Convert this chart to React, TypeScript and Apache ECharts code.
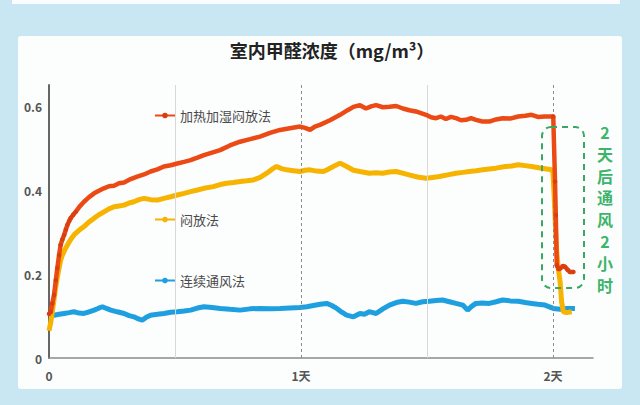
import React, { useEffect, useRef } from "react";
import * as echarts from "echarts";

const titleText = "室内甲醛浓度（mg/m³）";
const seriesNames = ["加热加湿闷放法", "闷放法", "连续通风法"];
const noteText = "2天后通风2小时";
const yTicks = [0, 0.2, 0.4, 0.6];

const redX = [0.0, 0.007, 0.013, 0.02, 0.027, 0.033, 0.04, 0.046, 0.053, 0.06, 0.067, 0.073, 0.08, 0.086, 0.096, 0.106, 0.122, 0.139, 0.159, 0.179, 0.198, 0.218, 0.238, 0.258, 0.278, 0.298, 0.324, 0.35, 0.377, 0.403, 0.43, 0.456, 0.483, 0.509, 0.536, 0.562, 0.589, 0.615, 0.647, 0.679, 0.718, 0.758, 0.798, 0.837, 0.877, 0.917, 0.956, 0.996, 1.016, 1.036, 1.055, 1.075, 1.115, 1.155, 1.185, 1.208, 1.234, 1.258, 1.278, 1.298, 1.325, 1.351, 1.378, 1.404, 1.43, 1.456, 1.476, 1.496, 1.516, 1.536, 1.555, 1.575, 1.595, 1.615, 1.635, 1.655, 1.675, 1.694, 1.72, 1.747, 1.774, 1.8, 1.83, 1.862, 1.89, 1.915, 1.94, 1.968, 2.001, 2.008, 2.011, 2.015, 2.022, 2.028, 2.04, 2.048, 2.058, 2.067, 2.081];
const redY = [0.105, 0.11, 0.13, 0.15, 0.185, 0.214, 0.245, 0.269, 0.282, 0.293, 0.306, 0.317, 0.326, 0.333, 0.341, 0.348, 0.361, 0.372, 0.383, 0.392, 0.398, 0.404, 0.409, 0.41, 0.416, 0.418, 0.426, 0.432, 0.437, 0.444, 0.449, 0.456, 0.459, 0.463, 0.467, 0.471, 0.477, 0.483, 0.489, 0.495, 0.506, 0.515, 0.521, 0.527, 0.536, 0.543, 0.547, 0.551, 0.548, 0.543, 0.551, 0.555, 0.566, 0.579, 0.59, 0.598, 0.602, 0.594, 0.599, 0.602, 0.597, 0.598, 0.6, 0.594, 0.59, 0.587, 0.583, 0.579, 0.573, 0.571, 0.575, 0.569, 0.574, 0.571, 0.566, 0.567, 0.571, 0.567, 0.563, 0.563, 0.568, 0.571, 0.57, 0.575, 0.577, 0.579, 0.574, 0.575, 0.575, 0.42, 0.34, 0.221, 0.212, 0.213, 0.219, 0.217, 0.21, 0.205, 0.205];

const yellowX = [0.0, 0.007, 0.013, 0.02, 0.026, 0.033, 0.04, 0.046, 0.053, 0.063, 0.073, 0.086, 0.099, 0.119, 0.139, 0.159, 0.179, 0.198, 0.218, 0.238, 0.258, 0.278, 0.298, 0.318, 0.337, 0.357, 0.377, 0.403, 0.43, 0.456, 0.483, 0.509, 0.536, 0.562, 0.589, 0.615, 0.652, 0.679, 0.705, 0.732, 0.758, 0.785, 0.811, 0.838, 0.864, 0.884, 0.903, 0.923, 0.943, 0.97, 0.996, 1.016, 1.036, 1.062, 1.089, 1.11, 1.128, 1.155, 1.181, 1.208, 1.234, 1.271, 1.298, 1.324, 1.35, 1.377, 1.403, 1.429, 1.462, 1.496, 1.522, 1.549, 1.582, 1.615, 1.642, 1.668, 1.695, 1.721, 1.747, 1.774, 1.81, 1.836, 1.862, 1.889, 1.915, 1.955, 1.995, 2.0, 2.005, 2.01, 2.015, 2.021, 2.028, 2.034, 2.041, 2.054, 2.074];
const yellowY = [0.065, 0.085, 0.11, 0.14, 0.166, 0.192, 0.214, 0.232, 0.245, 0.258, 0.269, 0.282, 0.293, 0.304, 0.313, 0.324, 0.333, 0.341, 0.348, 0.355, 0.36, 0.362, 0.364, 0.369, 0.372, 0.377, 0.38, 0.377, 0.376, 0.38, 0.384, 0.388, 0.392, 0.396, 0.4, 0.404, 0.408, 0.413, 0.416, 0.418, 0.42, 0.422, 0.424, 0.43, 0.44, 0.449, 0.456, 0.451, 0.448, 0.446, 0.444, 0.447, 0.448, 0.445, 0.444, 0.45, 0.456, 0.464, 0.456, 0.447, 0.444, 0.44, 0.441, 0.44, 0.443, 0.444, 0.44, 0.436, 0.431, 0.428, 0.43, 0.432, 0.436, 0.44, 0.442, 0.444, 0.446, 0.448, 0.45, 0.452, 0.456, 0.457, 0.46, 0.458, 0.456, 0.452, 0.448, 0.44, 0.38, 0.31, 0.25, 0.213, 0.182, 0.134, 0.11, 0.108, 0.11];

const blueX = [0.0, 0.02, 0.04, 0.06, 0.08, 0.099, 0.119, 0.139, 0.159, 0.179, 0.195, 0.212, 0.228, 0.245, 0.271, 0.298, 0.318, 0.337, 0.355, 0.37, 0.386, 0.403, 0.43, 0.456, 0.483, 0.509, 0.536, 0.562, 0.589, 0.615, 0.647, 0.679, 0.718, 0.758, 0.798, 0.837, 0.877, 0.917, 0.956, 0.996, 1.023, 1.049, 1.076, 1.102, 1.122, 1.142, 1.162, 1.181, 1.208, 1.234, 1.252, 1.271, 1.285, 1.298, 1.325, 1.351, 1.378, 1.404, 1.43, 1.456, 1.483, 1.509, 1.536, 1.562, 1.589, 1.615, 1.642, 1.661, 1.677, 1.694, 1.72, 1.747, 1.774, 1.8, 1.83, 1.862, 1.89, 1.915, 1.94, 1.968, 2.001, 2.028, 2.054, 2.087];
const blueY = [0.105, 0.102, 0.104, 0.106, 0.108, 0.11, 0.107, 0.106, 0.11, 0.114, 0.118, 0.122, 0.118, 0.114, 0.11, 0.106, 0.101, 0.098, 0.093, 0.09, 0.097, 0.102, 0.104, 0.106, 0.109, 0.11, 0.112, 0.114, 0.119, 0.122, 0.12, 0.118, 0.116, 0.114, 0.117, 0.118, 0.117, 0.118, 0.119, 0.12, 0.122, 0.125, 0.128, 0.13, 0.125, 0.118, 0.109, 0.102, 0.098, 0.106, 0.104, 0.11, 0.108, 0.106, 0.117, 0.126, 0.132, 0.135, 0.133, 0.13, 0.134, 0.135, 0.137, 0.138, 0.134, 0.13, 0.126, 0.114, 0.123, 0.13, 0.131, 0.13, 0.134, 0.138, 0.136, 0.135, 0.132, 0.13, 0.128, 0.126, 0.118, 0.116, 0.118, 0.118];

const zip = (xs: number[], ys: number[]) => xs.map((x, i) => [x, ys[i]]);

const FONT = "'Noto Sans CJK SC', 'Noto Sans', sans-serif";

export default function App() {
  const ref = useRef<HTMLDivElement>(null);
  useEffect(() => {
    if (!ref.current) return;
    const chart = echarts.init(ref.current, null, { renderer: "svg" });
    const legendBase = {
      orient: "horizontal",
      padding: 0,
      itemWidth: 20,
      itemHeight: 7,
      itemGap: 4,
      selectedMode: false,
      lineStyle: { width: 2 },
      textStyle: { fontSize: 13, color: "#4a4a4a", fontFamily: FONT },
    };
    // red markers are only visible where the line rises or drops steeply
    const redData = redX.map((x, i) => ({
      value: [x, redY[i]],
      symbol: x < 0.12 || x > 2.0 ? "circle" : "none",
    }));
    chart.setOption({
      animation: false,
      backgroundColor: "#c9e6f3",
      textStyle: { fontFamily: FONT },
      grid: { left: 49, right: 47, top: 85, bottom: 47, containLabel: false },
      legend: [
        { ...legendBase, data: [seriesNames[0]], left: 154, top: 109 },
        { ...legendBase, data: [seriesNames[1]], left: 154, top: 213 },
        { ...legendBase, data: [seriesNames[2]], left: 154, top: 274 },
      ],
      xAxis: {
        type: "value",
        min: 0,
        max: 2.1587,
        interval: 0.5,
        axisLine: { show: true, lineStyle: { color: "#8a8a8a", width: 1.5 } },
        axisTick: { show: false },
        splitLine: { show: false },
        axisLabel: {
          margin: 11,
          fontSize: 12,
          color: "#555",
          fontWeight: "bold",
          showMaxLabel: false,
          formatter: (v: number) => {
            if (Math.abs(v) < 1e-9) return "0";
            if (Math.abs(v - Math.round(v)) < 1e-9) return Math.round(v) + "天";
            return "";
          },
        },
      },
      yAxis: {
        type: "value",
        min: 0,
        max: 0.65,
        interval: 0.2,
        axisLine: { show: true, lineStyle: { color: "#666", width: 2 } },
        axisTick: { show: false },
        splitLine: { show: false },
        axisLabel: {
          margin: 7,
          fontSize: 12,
          color: "#555",
          fontWeight: "bold",
          showMaxLabel: false,
          formatter: (v: number) => {
            const t = yTicks.find((k) => Math.abs(k - v) < 1e-6);
            return t === undefined ? "" : String(t);
          },
        },
      },
      graphic: [
        { type: "rect", z: -10, shape: { x: 12, y: 0, width: 608, height: 4 }, style: { fill: "#fbfcfd" } },
        { type: "rect", z: -10, shape: { x: 18, y: 36, width: 604, height: 353, r: 3 }, style: { fill: "#fcfdfd" } },
        {
          type: "text",
          z: 10,
          x: 332,
          y: 50,
          style: { text: titleText, fontSize: 18, fontWeight: "bold", fill: "#222", align: "center", verticalAlign: "middle", fontFamily: FONT },
        },
        {
          type: "rect",
          z: 10,
          shape: { x: 542, y: 127, width: 42, height: 161, r: 9 },
          style: { fill: "none", stroke: "#3aa862", lineWidth: 2, lineDash: [6, 5] },
        },
        {
          type: "text",
          z: 10,
          x: 605,
          y: 121,
          style: {
            text: noteText.split("").join("\n"),
            fontSize: 16,
            lineHeight: 21.8,
            fontWeight: "bold",
            fill: "#3cb46a",
            align: "center",
            verticalAlign: "top",
            fontFamily: FONT,
          },
        },
      ],
      series: [
        {
          name: "grid-lines",
          type: "line",
          z: 1,
          data: [],
          silent: true,
          markLine: {
            silent: true,
            symbol: ["none", "none"],
            label: { show: false },
            data: [
              { xAxis: 0.5, lineStyle: { color: "#d8d8d8", width: 1, type: "solid" } },
              { xAxis: 1.5, lineStyle: { color: "#d8d8d8", width: 1, type: "solid" } },
              { xAxis: 1, lineStyle: { color: "#8c8c8c", width: 1, type: [3, 3] } },
              { xAxis: 2, lineStyle: { color: "#8c8c8c", width: 1, type: [3, 3] } },
            ],
          },
        },
        {
          name: seriesNames[2],
          type: "line",
          z: 3,
          data: zip(blueX, blueY),
          symbol: "circle",
          symbolSize: 4,
          showSymbol: false,
          lineStyle: { color: "#1e9fe0", width: 5 },
          itemStyle: { color: "#1e9fe0" },
        },
        {
          name: seriesNames[1],
          type: "line",
          z: 4,
          data: zip(yellowX, yellowY),
          symbol: "circle",
          symbolSize: 4,
          showSymbol: false,
          lineStyle: { color: "#f6b300", width: 5 },
          itemStyle: { color: "#f6b300" },
        },
        {
          name: seriesNames[0],
          type: "line",
          z: 5,
          data: redData,
          symbol: "circle",
          symbolSize: 4.5,
          showSymbol: true,
          showAllSymbol: true,
          lineStyle: { color: "#ec4a14", width: 4.5 },
          itemStyle: { color: "#d93e12" },
        },
      ],
    });
    return () => chart.dispose();
  }, []);
  return <div ref={ref} style={{ position: "absolute", left: 0, top: 0, width: 640, height: 405 }} />;
}
